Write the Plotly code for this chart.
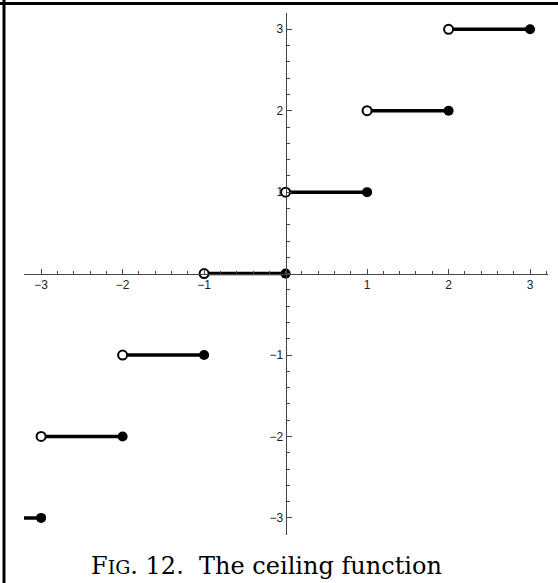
import plotly.graph_objects as go

# ceiling function: on (k-1, k] the value is k
levels = [-3, -2, -1, 0, 1, 2, 3]
open_x = [-4, -3, -2, -1, 0, 1, 2]   # left ends (not included)
closed_x = [-3, -2, -1, 0, 1, 2, 3]  # right ends (included)

major_ticks = [-3, -2, -1, 1, 2, 3]
tick_text = ["\u22123", "\u22122", "\u22121", "1", "2", "3"]

W, H = 558, 583
ml, mr, mt, mb = 24, 10, 13, 48
xr = [-3.21, 3.22]
yr = [-3.21, 3.2]

fig = go.Figure()

# horizontal steps
for lv, x0, x1 in zip(levels, open_x, closed_x):
    fig.add_trace(go.Scatter(x=[x0, x1], y=[lv, lv], mode="lines",
                             line=dict(color="black", width=3.5),
                             hoverinfo="skip", showlegend=False))

# filled right ends
fig.add_trace(go.Scatter(x=closed_x, y=levels, mode="markers",
                         marker=dict(size=10, color="black"),
                         showlegend=False))
# open left ends
fig.add_trace(go.Scatter(x=open_x, y=levels, mode="markers",
                         marker=dict(size=9, color="white",
                                     line=dict(color="black", width=2)),
                         showlegend=False))

xpos = (0 - yr[0]) / (yr[1] - yr[0])   # where y=0 sits in paper coords
ypos = (0 - xr[0]) / (xr[1] - xr[0])   # where x=0 sits

axis_common = dict(
    showgrid=False, zeroline=False, showline=True, linecolor="#444", linewidth=1,
    ticks="inside", ticklen=5, tickcolor="#444", tickwidth=1,
    tickvals=major_ticks, ticktext=tick_text,
    tickfont=dict(family="Liberation Sans, Arial", size=12, color="#222"),
    minor=dict(dtick=0.2, tick0=0, ticks="inside", ticklen=3, tickcolor="#444", tickwidth=1),
    anchor="free", fixedrange=True, automargin=False,
)

fig.update_xaxes(range=xr, position=xpos, side="bottom", **axis_common)
fig.update_yaxes(range=yr, position=ypos, side="left", **axis_common)

pw = W - ml - mr
ph = H - mt - mb
# frame lines on the left and top edges of the picture
left_x = (4 - ml) / pw
top_y = 1 + (mt - 3.5) / ph
fig.add_shape(type="line", xref="paper", yref="paper",
              x0=left_x, x1=left_x, y0=-mb / ph, y1=top_y + 0.01,
              line=dict(color="black", width=3))
fig.add_shape(type="line", xref="paper", yref="paper",
              x0=left_x - 0.01, x1=1 + mr / pw, y0=top_y, y1=top_y,
              line=dict(color="black", width=3))

fig.add_annotation(
    text="F<span style='font-size:19px'>IG</span>. 12.&nbsp;&nbsp;The ceiling function",
    xref="paper", yref="paper", x=(266 - ml) / pw, y=-(566 - mt - ph) / ph,
    xanchor="center", yanchor="middle", showarrow=False,
    font=dict(family="DejaVu Serif, Liberation Serif, serif", size=24, color="black"),
)

fig.update_layout(
    width=W, height=H,
    margin=dict(l=ml, r=mr, t=mt, b=mb, autoexpand=False),
    plot_bgcolor="white", paper_bgcolor="white",
    showlegend=False,
)

# drop the browser's default 8px body margin so the figure sits at the corner
fig.write_html("out.html", config={"displayModeBar": False},
               post_script="document.body.style.margin='0';")
